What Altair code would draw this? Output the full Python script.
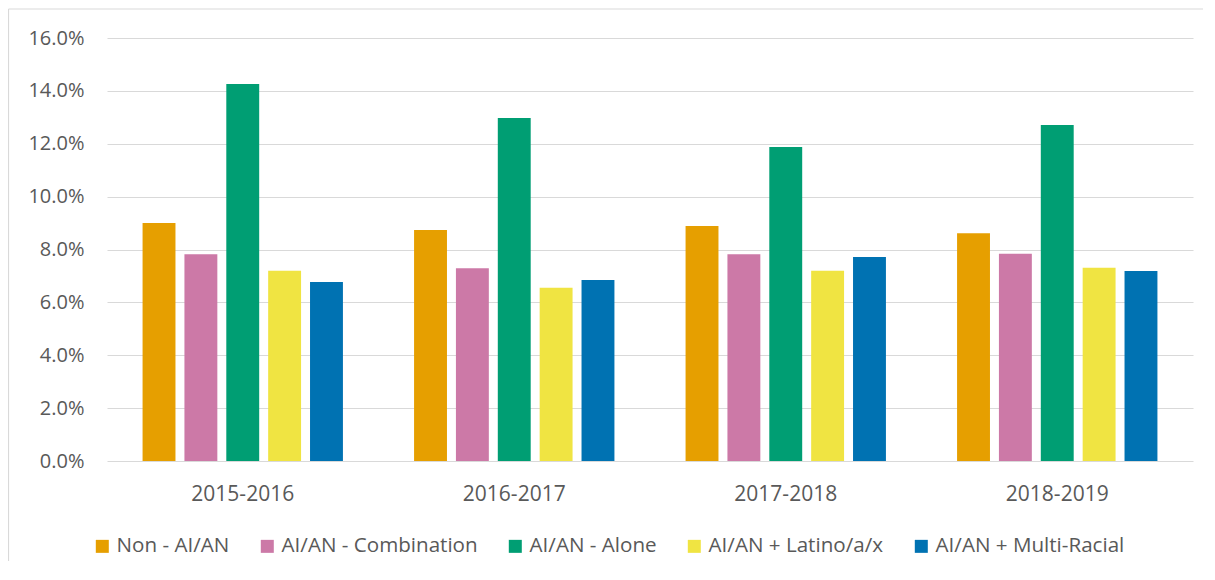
import altair as alt
import pandas as pd

years = ["2015-2016", "2016-2017", "2017-2018", "2018-2019"]
series = ["Non - AI/AN", "AI/AN - Combination", "AI/AN - Alone",
          "AI/AN + Latino/a/x", "AI/AN + Multi-Racial"]
colors = ["#E69F00", "#CC79A7", "#009E73", "#F0E442", "#0072B2"]

non_aian = [9.00, 8.74, 8.89, 8.61]
aian_combination = [7.82, 7.29, 7.82, 7.84]
aian_alone = [14.26, 12.97, 11.88, 12.71]
aian_latino = [7.20, 6.55, 7.20, 7.31]
aian_multiracial = [6.77, 6.85, 7.72, 7.19]

y_ticks = [0, 2, 4, 6, 8, 10, 12, 14, 16]

values_by_series = [non_aian, aian_combination, aian_alone, aian_latino, aian_multiracial]
rows = []
for s, vals in zip(series, values_by_series):
    for yr, v in zip(years, vals):
        rows.append({"Year": yr, "Series": s, "Value": v})
df = pd.DataFrame(rows)

FONT = "Open Sans"
GREY = "#595959"
BORDER = "#d9d9d9"

bars = alt.Chart(df).mark_bar().encode(
    x=alt.X("Year:N", sort=years, title=None,
            scale=alt.Scale(paddingInner=0.262, paddingOuter=0.131),
            axis=alt.Axis(labelAngle=0, ticks=False, tickSize=0, domain=False,
                          labelPadding=22, labelFontSize=21, labelColor=GREY,
                          labelFont=FONT, grid=False)),
    xOffset=alt.XOffset("Series:N", sort=series,
                        scale=alt.Scale(paddingInner=0.214, paddingOuter=0)),
    y=alt.Y("Value:Q", title=None,
            scale=alt.Scale(domain=[0, 16], nice=False),
            axis=alt.Axis(values=y_ticks, labelExpr="format(datum.value, '.1f') + '%'",
                          ticks=False, tickSize=0, domain=False, labelPadding=23,
                          labelFontSize=20, labelColor=GREY, labelFont=FONT,
                          grid=True, gridColor="#d9d9d9", gridWidth=1.2)),
    color=alt.Color("Series:N", sort=series,
                    scale=alt.Scale(domain=series, range=colors),
                    legend=alt.Legend(title=None, orient="none", direction="horizontal",
                                      columns=5, legendX=-15, legendY=498,
                                      symbolType="square", symbolSize=169,
                                      symbolStrokeWidth=0, labelFontSize=20.6,
                                      labelFont=FONT, labelColor=GREY, labelOffset=4,
                                      labelLimit=400, columnPadding=27, padding=0)),
)

frame = alt.Data(values=[{"a": 1}])
top_line = alt.Chart(frame).mark_rule(color=BORDER, strokeWidth=1.2).encode(
    x=alt.value(-98.5), x2=alt.value(1096), y=alt.value(-29)
)
left_line = alt.Chart(frame).mark_rule(color=BORDER, strokeWidth=1.2).encode(
    x=alt.value(-98.5), y=alt.value(-29), y2=alt.value(3000)
)

chart = alt.layer(top_line, left_line, bars).properties(
    width=1086, height=423,
    autosize=alt.AutoSizeParams(type="none"),
    padding={"left": 99, "top": 30, "right": 13, "bottom": 100},
).configure_view(stroke=None)

chart.save("out.html", embed_options={"renderer": "svg", "actions": False})
